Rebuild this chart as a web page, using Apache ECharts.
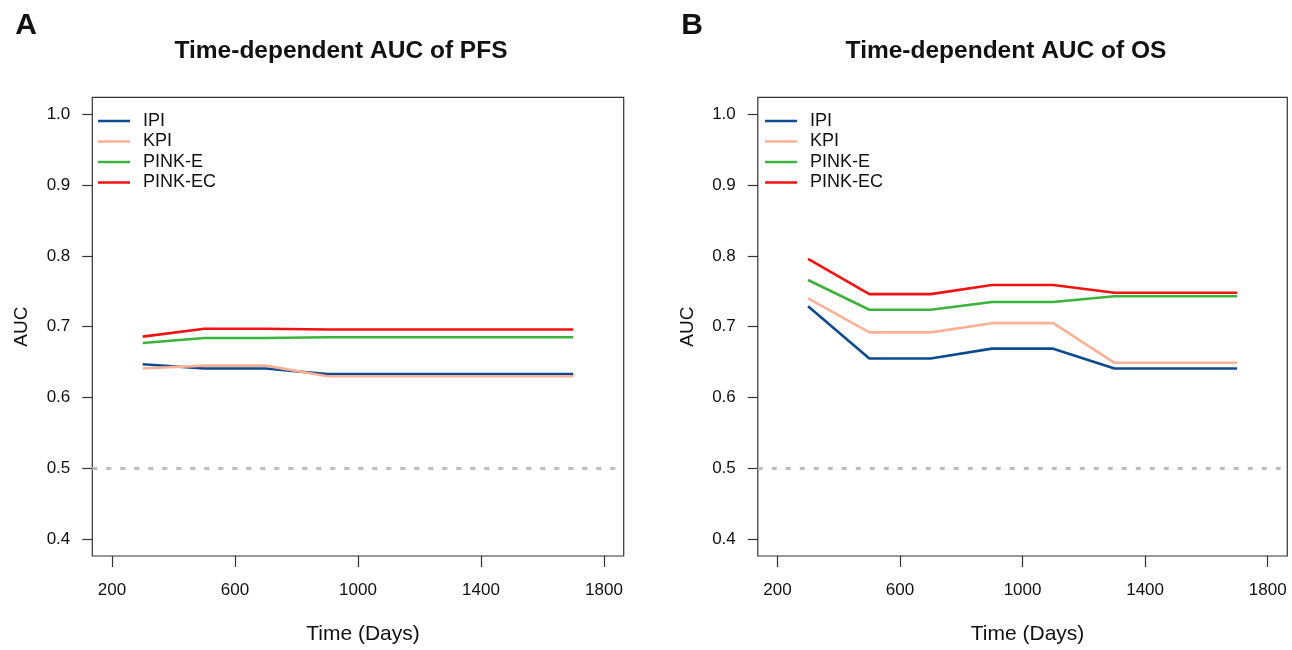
<!DOCTYPE html>
<html>
<head>
<meta charset="utf-8">
<script src="https://cdn.jsdelivr.net/npm/echarts@6/dist/echarts.min.js"></script>
<style>
html,body{margin:0;padding:0;background:#fff;}
#chart{width:1292px;height:650px;}
</style>
</head>
<body>
<div id="chart"></div>
<script>
// ---- data ----
const times = [300, 500, 700, 900, 1100, 1300, 1500, 1700];
const seriesNames = ['IPI', 'KPI', 'PINK-E', 'PINK-EC'];
const xTicks = [200, 600, 1000, 1400, 1800];
const yTicks = [0.4, 0.5, 0.6, 0.7, 0.8, 0.9, 1.0];

const pfsIPI    = [0.647, 0.641, 0.641, 0.633, 0.633, 0.633, 0.633, 0.633];
const pfsKPI    = [0.641, 0.645, 0.645, 0.630, 0.630, 0.630, 0.630, 0.630];
const pfsPINKE  = [0.677, 0.684, 0.684, 0.685, 0.685, 0.685, 0.685, 0.685];
const pfsPINKEC = [0.686, 0.697, 0.697, 0.696, 0.696, 0.696, 0.696, 0.696];

const osIPI    = [0.729, 0.655, 0.655, 0.669, 0.669, 0.641, 0.641, 0.641];
const osKPI    = [0.740, 0.692, 0.692, 0.705, 0.705, 0.649, 0.649, 0.649];
const osPINKE  = [0.766, 0.724, 0.724, 0.735, 0.735, 0.743, 0.743, 0.743];
const osPINKEC = [0.796, 0.746, 0.746, 0.759, 0.759, 0.748, 0.748, 0.748];

const refLine = 0.5;
const panelTitles = ['Time-dependent AUC of PFS', 'Time-dependent AUC of OS'];
const panelLetters = ['A', 'B'];

// ---- styling ----
const colors = ['#0D4A8F', '#FCB095', '#3DB23D', '#F21212'];
const FONT = '"Liberation Sans", Arial, Helvetica, sans-serif';

const xPad = 0.04 * (xTicks[xTicks.length - 1] - xTicks[0]);
const yPad = 0.04 * (yTicks[yTicks.length - 1] - yTicks[0]);
const xMin = xTicks[0] - xPad, xMax = xTicks[xTicks.length - 1] + xPad;
const yMin = yTicks[0] - yPad, yMax = yTicks[yTicks.length - 1] + yPad;

const grids = [
  { left: 92.3, top: 97.4, width: 531.4, height: 462 },
  { left: 757.8, top: 97.4, width: 529.5, height: 462 }
];

function makeX(i) {
  return {
    type: 'value', gridIndex: i, min: xMin, max: xMax,
    name: 'Time (Days)', nameLocation: 'middle', nameGap: 68,
    nameTextStyle: { fontFamily: FONT, fontSize: 21, color: '#111', padding: [0, 0, 0, 10] },
    axisLine: { show: false },
    splitLine: { show: false },
    axisTick: { show: true, length: 11, customValues: xTicks, lineStyle: { color: '#333', width: 1.2 } },
    axisLabel: { customValues: xTicks, margin: 26, fontFamily: FONT, fontSize: 17, color: '#111',
                 formatter: v => String(Math.round(v)) }
  };
}
function makeY(i) {
  return {
    type: 'value', gridIndex: i, min: yMin, max: yMax,
    name: 'AUC', nameLocation: 'middle', nameGap: 61, nameRotate: 90,
    nameTextStyle: { fontFamily: FONT, fontSize: 19, color: '#111' },
    axisLine: { show: false },
    splitLine: { show: false },
    axisTick: { show: true, length: 10, customValues: yTicks, lineStyle: { color: '#333', width: 1.2 } },
    axisLabel: { customValues: yTicks, margin: 22, fontFamily: FONT, fontSize: 17, color: '#111',
                 formatter: v => Number(v).toFixed(1) }
  };
}

const panelData = [
  [pfsIPI, pfsKPI, pfsPINKE, pfsPINKEC],
  [osIPI, osKPI, osPINKE, osPINKEC]
];

const series = [];
panelData.forEach((arrs, p) => {
  arrs.forEach((vals, k) => {
    const s = {
      name: seriesNames[k], type: 'line', xAxisIndex: p, yAxisIndex: p,
      data: times.map((t, j) => [t, vals[j]]),
      symbol: 'none', color: colors[k],
      lineStyle: { color: colors[k], width: 2.6 },
      z: 3 + k, silent: true
    };
    if (k === 0) {
      s.markLine = {
        silent: true, symbol: ['none', 'none'], label: { show: false },
        lineStyle: { color: '#BDBDBD', width: 3, type: [5, 9] },
        data: [{ yAxis: refLine }]
      };
    }
    series.push(s);
  });
});

const legendBase = {
  orient: 'vertical', icon: 'rect', itemWidth: 32, itemHeight: 2.5, itemGap: 2.5,
  top: 112, padding: 0, data: seriesNames, selectedMode: false,
  textStyle: { fontFamily: FONT, fontSize: 18, lineHeight: 18, color: '#111', padding: [0, 0, 0, 8] }
};

const titleCenters = [[341, 51], [1006, 51]];
const letterCenters = [[26, 26], [692, 26]];
const graphics = [];
[0, 1].forEach(p => {
  graphics.push({
    type: 'text', x: titleCenters[p][0], y: titleCenters[p][1], silent: true,
    style: { text: panelTitles[p], textAlign: 'center', textVerticalAlign: 'middle',
             font: 'bold 24.5px ' + FONT, fill: '#111' }
  });
  graphics.push({
    type: 'text', x: letterCenters[p][0], y: letterCenters[p][1], silent: true,
    style: { text: panelLetters[p], textAlign: 'center', textVerticalAlign: 'middle',
             font: 'bold 30px ' + FONT, fill: '#111' }
  });
});

const chart = echarts.init(document.getElementById('chart'), null, { renderer: 'canvas' });
chart.setOption({
  animation: false,
  backgroundColor: '#fff',
  grid: grids.map(g => Object.assign({ show: true, borderColor: '#333', borderWidth: 1.2, backgroundColor: 'transparent' }, g)),
  xAxis: [makeX(0), makeX(1)],
  yAxis: [makeY(0), makeY(1)],
  legend: [
    Object.assign({}, legendBase, { left: 98 }),
    Object.assign({}, legendBase, { left: 765 })
  ],
  series: series,
  graphic: graphics
});
</script>
</body>
</html>
